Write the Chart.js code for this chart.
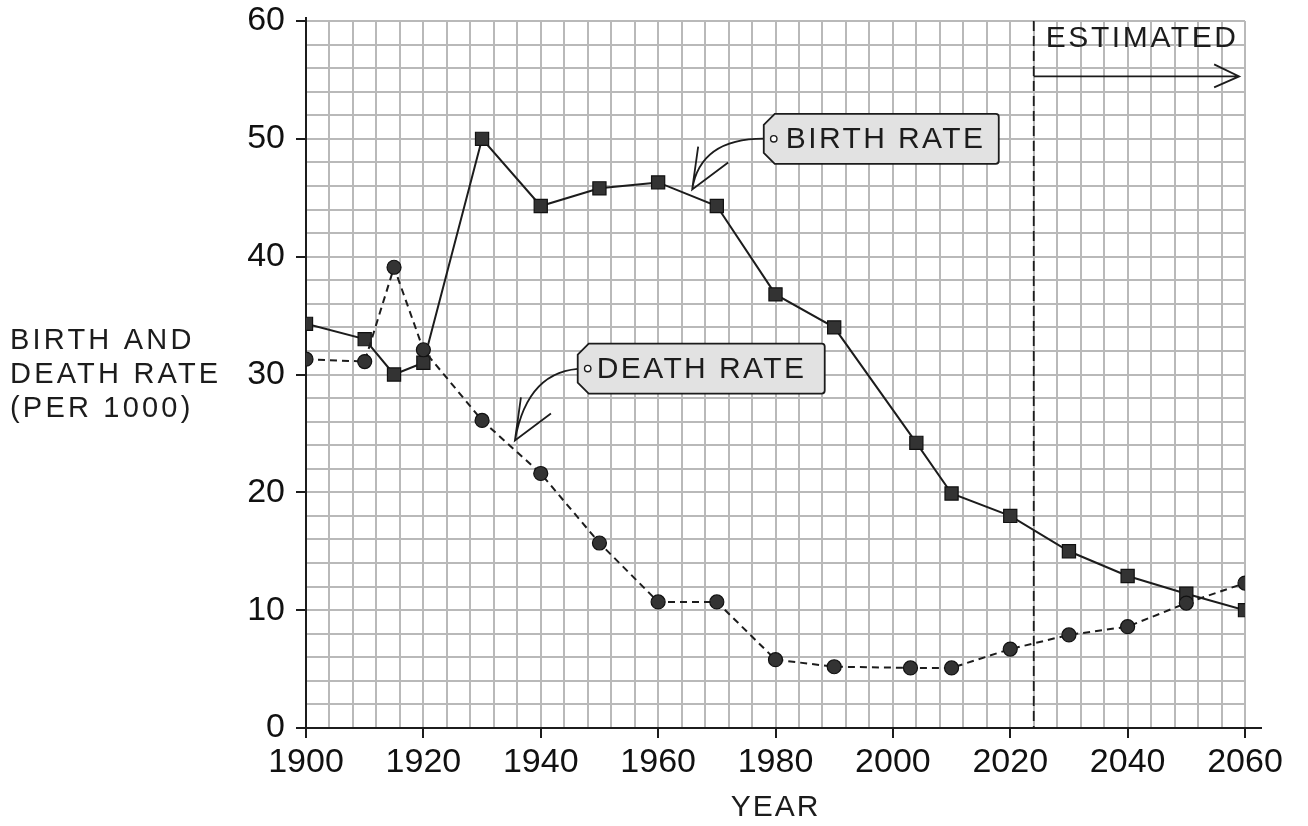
<!DOCTYPE html>
<html>
<head>
<meta charset="utf-8">
<script src="https://cdn.jsdelivr.net/npm/chart.js@4.4.1/dist/chart.umd.min.js"></script>
<style>
  body { margin: 0; background: #fff; }
</style>
</head>
<body>
<canvas id="chart1" width="1308" height="826"></canvas>
<script>
// values (per 1000)
const birthYears = [1900, 1910, 1915, 1920, 1930, 1940, 1950, 1960, 1970, 1980, 1990, 2004, 2010, 2020, 2030, 2040, 2050, 2060];
const birthRate  = [34.3, 33.0, 30.0, 31.0, 50.0, 44.3, 45.8, 46.3, 44.3, 36.8, 34.0, 24.2, 19.9, 18.0, 15.0, 12.9, 11.4, 10.0];
const deathYears = [1900, 1910, 1915, 1920, 1930, 1940, 1950, 1960, 1970, 1980, 1990, 2003, 2010, 2020, 2030, 2040, 2050, 2060];
const deathRate  = [31.3, 31.1, 39.1, 32.1, 26.1, 21.6, 15.7, 10.7, 10.7, 5.8, 5.2, 5.1, 5.1, 6.7, 7.9, 8.6, 10.6, 12.3];

const xTicksEvery = 20;   // labelled years
const yTicksEvery = 10;   // labelled rates
const estimatedFrom = 2024;
const yTitle = ['BIRTH AND', 'DEATH RATE', '(PER 1000)'];
const xTitle = 'YEAR';

const fontName = '"Liberation Sans", Arial, sans-serif';
const ink = '#1c1c1c';

function toPoints(xs, ys) {
  let pts = [];
  for (let i = 0; i < xs.length; i++) {
    pts.push({ x: xs[i], y: ys[i] });
  }
  return pts;
}

// text with a bit of letter spacing, like the hand lettering
function txt(ctx, s, x, y, size, align, spacing) {
  ctx.save();
  ctx.font = size + 'px ' + fontName;
  ctx.fillStyle = ink;
  ctx.textAlign = align || 'left';
  ctx.textBaseline = 'middle';
  ctx.letterSpacing = (spacing || 0) + 'px';
  ctx.fillText(s, x, y);
  ctx.restore();
}

// label tag with the two cut corners on the left
function tag(ctx, left, cy, w, h, label, textOffset) {
  let top = cy - h / 2, bottom = cy + h / 2, right = left + w, c = 11;
  ctx.save();
  ctx.beginPath();
  ctx.moveTo(left + c, top);
  ctx.lineTo(right - 3, top);
  ctx.quadraticCurveTo(right, top, right, top + 3);
  ctx.lineTo(right, bottom - 3);
  ctx.quadraticCurveTo(right, bottom, right - 3, bottom);
  ctx.lineTo(left + c, bottom);
  ctx.lineTo(left, bottom - c);
  ctx.lineTo(left, top + c);
  ctx.closePath();
  ctx.fillStyle = '#e2e2e2';
  ctx.fill();
  ctx.strokeStyle = ink;
  ctx.lineWidth = 1.8;
  ctx.stroke();
  // little hole
  ctx.beginPath();
  ctx.arc(left + 10, cy, 3.2, 0, Math.PI * 2);
  ctx.fillStyle = '#fff';
  ctx.fill();
  ctx.lineWidth = 1.4;
  ctx.stroke();
  ctx.restore();
  txt(ctx, label, left + textOffset, cy + 1, 30, 'left', 2.4);
}

// curved pointer from the tag hole down to the line
function pointer(ctx, sx, sy, cx, cy, tx, ty) {
  ctx.save();
  ctx.strokeStyle = ink;
  ctx.lineWidth = 1.8;
  ctx.beginPath();
  ctx.moveTo(sx, sy);
  ctx.quadraticCurveTo(cx, cy, tx, ty);
  ctx.moveTo(tx + 6, ty - 43);
  ctx.lineTo(tx, ty);
  ctx.lineTo(tx + 36, ty - 27);
  ctx.stroke();
  ctx.restore();
}

const extras = {
  id: 'extras',
  beforeDatasetsDraw(chart) {
    const { ctx, chartArea, scales } = chart;
    let x = scales.x.getPixelForValue(estimatedFrom);
    ctx.save();
    ctx.strokeStyle = ink;
    ctx.lineWidth = 1.8;
    ctx.setLineDash([10, 5]);
    ctx.beginPath();
    ctx.moveTo(x, chartArea.top);
    ctx.lineTo(x, chartArea.bottom);
    ctx.stroke();
    ctx.restore();
  },
  afterDraw(chart) {
    const { ctx, chartArea, scales } = chart;
    const px = v => scales.x.getPixelForValue(v);
    const py = v => scales.y.getPixelForValue(v);

    // axis lines run a little past the grid
    ctx.save();
    ctx.strokeStyle = ink;
    ctx.lineWidth = 2;
    ctx.beginPath();
    ctx.moveTo(chartArea.right, chartArea.bottom);
    ctx.lineTo(chartArea.right + 17, chartArea.bottom);
    ctx.moveTo(chartArea.left, chartArea.top);
    ctx.lineTo(chartArea.left, chartArea.top - 4);
    ctx.stroke();
    ctx.restore();

    // axis titles
    let mid = py(30);
    txt(ctx, yTitle[0], 10, mid - 34, 29, 'left', 3.2);
    txt(ctx, yTitle[1], 10, mid, 29, 'left', 3.2);
    txt(ctx, yTitle[2], 10, mid + 34, 29, 'left', 3.2);
    txt(ctx, xTitle, (chartArea.left + chartArea.right) / 2, 808, 30, 'center', 2);

    // estimated arrow
    let ex = px(estimatedFrom), ey = py(55.3), end = px(2059);
    txt(ctx, 'ESTIMATED', ex + 12, py(58.5), 30, 'left', 2.6);
    ctx.save();
    ctx.strokeStyle = ink;
    ctx.lineWidth = 1.8;
    ctx.beginPath();
    ctx.moveTo(ex, ey);
    ctx.lineTo(end, ey);
    ctx.moveTo(end - 25, ey - 12);
    ctx.lineTo(end, ey);
    ctx.lineTo(end - 25, ey + 11);
    ctx.stroke();
    ctx.restore();

    // birth rate label
    let bl = px(1978), bc = py(50);
    pointer(ctx, bl + 7, bc, bl - 63, bc - 3, px(1965.8), py(45.7));
    tag(ctx, bl, bc, 235, 50, 'BIRTH RATE', 22);

    // death rate label
    let dl = px(1946.3), dc = py(30.5);
    pointer(ctx, dl + 7, dc, dl - 50, dc, px(1935.6), py(24.4));
    tag(ctx, dl, dc, 247, 50, 'DEATH RATE', 19);
  }
};

new Chart(document.getElementById('chart1'), {
  type: 'line',
  data: {
    datasets: [{
      label: 'Birth rate',
      data: toPoints(birthYears, birthRate),
      borderColor: ink,
      borderWidth: 2,
      pointStyle: 'rect',
      pointRadius: 9.3,
      pointBackgroundColor: '#333',
      pointBorderColor: '#111',
      pointBorderWidth: 1.2,
      tension: 0,
      fill: false,
      order: 1
    }, {
      label: 'Death rate',
      data: toPoints(deathYears, deathRate),
      borderColor: ink,
      borderWidth: 2,
      borderDash: [7, 5],
      pointStyle: 'circle',
      pointRadius: 7,
      pointBackgroundColor: '#333',
      pointBorderColor: '#111',
      pointBorderWidth: 1.2,
      tension: 0,
      fill: false,
      order: 0
    }]
  },
  options: {
    responsive: false,
    animation: false,
    layout: { padding: { top: 21, right: 63, left: 0, bottom: 0 } },
    plugins: {
      legend: { display: false },
      tooltip: { enabled: false }
    },
    scales: {
      x: {
        type: 'linear',
        min: 1900,
        max: 2060,
        afterFit(scale) {
          scale.height = 98;
          scale.paddingLeft = 0;
          scale.paddingRight = 0;
        },
        ticks: {
          stepSize: 4,
          autoSkip: false,
          maxRotation: 0,
          padding: 4,
          color: '#111',
          font: { family: fontName, size: 34 },
          callback: v => v % xTicksEvery === 0 ? String(v) : ''
        },
        grid: {
          color: '#b9b9b9',
          lineWidth: 2,
          tickLength: 10,
          tickWidth: 2,
          tickColor: c => (c.tick && c.tick.value % xTicksEvery === 0) ? ink : 'rgba(0,0,0,0)'
        },
        border: { color: ink, width: 2 }
      },
      y: {
        min: 0,
        max: 60,
        afterFit(scale) {
          scale.width = 306;
          scale.paddingTop = 0;
          scale.paddingBottom = 0;
        },
        ticks: {
          stepSize: 2,
          autoSkip: false,
          padding: 11,
          color: '#111',
          font: { family: fontName, size: 34 },
          callback: v => v % yTicksEvery === 0 ? String(v) : ''
        },
        grid: {
          color: '#b9b9b9',
          lineWidth: 2,
          tickLength: 10,
          tickWidth: 2,
          tickColor: c => (c.tick && c.tick.value % yTicksEvery === 0) ? ink : 'rgba(0,0,0,0)'
        },
        border: { color: ink, width: 2 }
      }
    }
  },
  plugins: [extras]
});
</script>
</body>
</html>
